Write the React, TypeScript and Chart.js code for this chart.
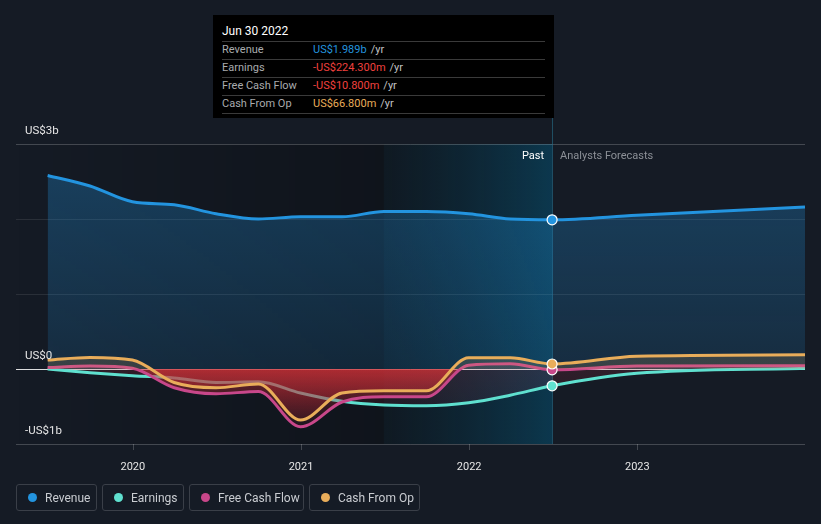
import React, { useEffect, useRef } from "react";
import { Chart, registerables } from "chart.js";

Chart.register(...registerables);

// ---- Data (US$ billions) ----
const periods = [
  "2019-06-30", "2019-09-30", "2019-12-31", "2020-03-31", "2020-06-30",
  "2020-09-30", "2020-12-31", "2021-03-31", "2021-06-30", "2021-09-30",
  "2021-12-31", "2022-03-31", "2022-06-30", "2022-12-31", "2023-12-31",
];
const revenue = [2.58, 2.44, 2.23, 2.19, 2.07, 2.0, 2.03, 2.03, 2.1, 2.1, 2.07, 2.0, 1.989, 2.05, 2.16];
const earnings = [0.0, -0.05, -0.09, -0.12, -0.18, -0.17, -0.32, -0.43, -0.48, -0.49, -0.45, -0.35, -0.2243, -0.058, 0.01];
const freeCashFlow = [0.02, 0.04, 0.01, -0.25, -0.33, -0.3, -0.77, -0.44, -0.37, -0.37, 0.05, 0.07, -0.0108, 0.04, 0.045];
const cashFromOp = [0.12, 0.155, 0.12, -0.18, -0.25, -0.2, -0.68, -0.32, -0.29, -0.29, 0.15, 0.15, 0.0668, 0.17, 0.19];

const yTickValues = [-1, 0, 1, 2, 3];
const yTickLabels: Record<string, string> = { "3": "US$3b", "0": "US$0", "-1": "-US$1b" };
const xTickYears = [2020, 2021, 2022, 2023];
const pastEndIndex = 12;
const bandStartDate = "2021-06-30";
const xAxisStart = 2019.305;

const tooltipTitle = "Jun 30 2022";
const tooltipRows = [
  { label: "Revenue", value: "US$1.989b", color: "#2394df" },
  { label: "Earnings", value: "-US$224.300m", color: "#f0403e" },
  { label: "Free Cash Flow", value: "-US$10.800m", color: "#f0403e" },
  { label: "Cash From Op", value: "US$66.800m", color: "#e9ad5a" },
];

const COLORS = {
  revenue: "#2394df",
  earnings: "#5fe0cf",
  fcf: "#c8478a",
  cfo: "#e9ad5a",
};

const legendItems = [
  { label: "Revenue", color: COLORS.revenue, width: 81 },
  { label: "Earnings", color: COLORS.earnings, width: 82 },
  { label: "Free Cash Flow", color: COLORS.fcf, width: 115 },
  { label: "Cash From Op", color: COLORS.cfo, width: 111 },
];

function toYear(d: string): number {
  const [y, m, day] = d.split("-").map(Number);
  const start = Date.UTC(y, 0, 1);
  const end = Date.UTC(y + 1, 0, 1);
  return y + (Date.UTC(y, m - 1, day) - start) / (end - start);
}

const xs = periods.map(toYear);
const toPoints = (vals: number[]) => vals.map((v, i) => ({ x: xs[i], y: v }));

function cashGradient(chart: any, above: string, belowTop: string, belowBottom: string) {
  const { chartArea, scales, ctx } = chart;
  if (!chartArea) return above;
  const top = chartArea.top;
  const bottom = chartArea.bottom;
  const y0 = scales.y.getPixelForValue(0);
  const yLow = scales.y.getPixelForValue(-0.8);
  const f0 = Math.min(1, Math.max(0, (y0 - top) / (bottom - top)));
  const fLow = Math.min(1, Math.max(f0 + 0.002, (yLow - top) / (bottom - top)));
  const g = ctx.createLinearGradient(0, top, 0, bottom);
  g.addColorStop(0, above);
  g.addColorStop(f0, above);
  g.addColorStop(Math.min(1, f0 + 0.001), belowTop);
  g.addColorStop(fLow, belowBottom);
  g.addColorStop(1, belowBottom);
  return g;
}

function revenueGradient(chart: any) {
  const { chartArea, scales, ctx } = chart;
  if (!chartArea) return "rgba(35,148,223,0.2)";
  const yTop = scales.y.getPixelForValue(2.6);
  const y0 = scales.y.getPixelForValue(0);
  const g = ctx.createLinearGradient(0, yTop, 0, y0);
  g.addColorStop(0, "rgba(35,148,223,0.30)");
  g.addColorStop(1, "rgba(35,148,223,0.15)");
  return g;
}

const overlayPlugin = {
  id: "overlayPlugin",
  beforeDatasetsDraw(chart: any) {
    const { ctx, chartArea, scales } = chart;
    const x = scales.x;
    const y = scales.y;
    const left = chartArea.left;
    const right = chartArea.right;
    const top = chartArea.top;
    const bottom = chartArea.bottom;
    const xBand = x.getPixelForValue(toYear(bandStartDate));
    const xNow = x.getPixelForValue(xs[pastEndIndex]);
    ctx.save();
    const g1 = ctx.createLinearGradient(left, 0, xBand, 0);
    g1.addColorStop(0, "rgba(0,0,0,0)");
    g1.addColorStop(1, "rgba(0,0,0,0.25)");
    ctx.fillStyle = g1;
    ctx.fillRect(left, top, xBand - left, bottom - top);
    const g2 = ctx.createLinearGradient(xBand, 0, xNow, 0);
    g2.addColorStop(0, "rgba(8,24,32,0.4)");
    g2.addColorStop(1, "rgba(6,75,105,0.6)");
    ctx.fillStyle = g2;
    ctx.fillRect(xBand, top, xNow - xBand, bottom - top);
    yTickValues.forEach((v) => {
      const py = Math.round(y.getPixelForValue(v)) + 0.5;
      if (v === 0) return;
      ctx.beginPath();
      ctx.strokeStyle = v === 3 || v === -1 ? "rgba(255,255,255,0.2)" : "rgba(255,255,255,0.09)";
      ctx.lineWidth = 1;
      ctx.moveTo(left, py);
      ctx.lineTo(right, py);
      ctx.stroke();
    });
    const pz = Math.round(y.getPixelForValue(0)) + 0.5;
    ctx.beginPath();
    ctx.strokeStyle = "rgba(255,255,255,0.85)";
    ctx.lineWidth = 1;
    ctx.moveTo(left, pz);
    ctx.lineTo(right, pz);
    ctx.stroke();
    ctx.strokeStyle = "rgba(255,255,255,0.2)";
    xTickYears.forEach((yr) => {
      const px = Math.round(x.getPixelForValue(yr)) + 0.5;
      ctx.beginPath();
      ctx.moveTo(px, bottom);
      ctx.lineTo(px, bottom + 6);
      ctx.stroke();
    });
    ctx.beginPath();
    ctx.strokeStyle = "rgba(40,120,150,0.55)";
    ctx.moveTo(Math.round(xNow) + 0.5, 118);
    ctx.lineTo(Math.round(xNow) + 0.5, bottom);
    ctx.stroke();
    ctx.restore();
  },
  afterDraw(chart: any) {
    const { ctx, chartArea, scales } = chart;
    const x = scales.x;
    const y = scales.y;
    ctx.save();
    ctx.font = "11.5px Roboto";
    ctx.textBaseline = "middle";
    ctx.fillStyle = "#e6e6e6";
    ctx.textAlign = "left";
    yTickValues.forEach((v) => {
      const lbl = yTickLabels[String(v)];
      if (!lbl) return;
      ctx.fillText(lbl, chartArea.left + 9, y.getPixelForValue(v) - 12.5);
    });
    ctx.font = "11px Roboto";
    ctx.textAlign = "center";
    xTickYears.forEach((yr) => {
      ctx.fillText(String(yr), x.getPixelForValue(yr), chartArea.bottom + 23.5);
    });
    const xNow = x.getPixelForValue(xs[pastEndIndex]);
    ctx.textAlign = "right";
    ctx.fillStyle = "#ffffff";
    ctx.fillText("Past", xNow - 8, chartArea.top + 12.5);
    ctx.textAlign = "left";
    ctx.fillStyle = "#8c9097";
    ctx.fillText("Analysts Forecasts", xNow + 8, chartArea.top + 12.5);
    ctx.restore();
  },
};

export default function App() {
  const canvasRef = useRef<HTMLCanvasElement | null>(null);

  useEffect(() => {
    if (!canvasRef.current) return;
    const pointRadius = (ctx: any) => (ctx.dataIndex === pastEndIndex ? 5 : 0);
    const common = {
      borderWidth: 3,
      cubicInterpolationMode: "monotone" as const,
      pointRadius,
      pointHoverRadius: 0,
      pointBorderColor: "#ffffff",
      pointBorderWidth: 1.2,
    };
    const chart = new Chart(canvasRef.current, {
      type: "line",
      data: {
        datasets: [
          {
            ...common,
            label: "Cash From Op",
            data: toPoints(cashFromOp),
            borderColor: COLORS.cfo,
            pointBackgroundColor: COLORS.cfo,
            fill: "origin",
            backgroundColor: (c: any) =>
              cashGradient(c.chart, "rgba(233,173,90,0.16)", "rgba(215,50,55,0.5)", "rgba(160,30,45,0.08)"),
          },
          {
            ...common,
            label: "Free Cash Flow",
            data: toPoints(freeCashFlow),
            borderColor: COLORS.fcf,
            pointBackgroundColor: COLORS.fcf,
            fill: "origin",
            backgroundColor: (c: any) =>
              cashGradient(c.chart, "rgba(200,71,138,0.08)", "rgba(215,50,55,0.5)", "rgba(160,30,45,0.08)"),
          },
          {
            ...common,
            label: "Earnings",
            data: toPoints(earnings),
            borderColor: COLORS.earnings,
            pointBackgroundColor: COLORS.earnings,
            fill: "origin",
            backgroundColor: (c: any) =>
              cashGradient(c.chart, "rgba(95,224,207,0.04)", "rgba(190,50,70,0.16)", "rgba(160,40,60,0.08)"),
          },
          {
            ...common,
            label: "Revenue",
            data: toPoints(revenue),
            borderColor: COLORS.revenue,
            pointBackgroundColor: COLORS.revenue,
            fill: "origin",
            backgroundColor: (c: any) => revenueGradient(c.chart),
          },
        ],
      },
      options: {
        animation: false,
        responsive: false,
        maintainAspectRatio: false,
        layout: { padding: { left: 16, right: 16, top: 144, bottom: 80 } },
        plugins: { legend: { display: false }, tooltip: { enabled: false } },
        events: [],
        scales: {
          x: { type: "linear", display: false, min: xAxisStart, max: xs[xs.length - 1] },
          y: { type: "linear", display: false, min: -1, max: 3 },
        },
      },
      plugins: [overlayPlugin],
    });
    return () => chart.destroy();
  }, []);

  return (
    <div
      style={{
        position: "fixed",
        left: 0,
        top: 0,
        width: 821,
        height: 524,
        background: "#151b25",
        fontFamily: "Roboto, 'Noto Sans', sans-serif",
        overflow: "hidden",
      }}
    >
      <canvas ref={canvasRef} width={821} height={524} style={{ position: "absolute", left: 0, top: 0 }} />
      <div
        style={{
          position: "absolute",
          left: 213,
          top: 15,
          width: 341,
          height: 103,
          background: "#000000",
          boxSizing: "border-box",
          padding: "0 9px",
        }}
      >
        <div style={{ height: 26, lineHeight: "33px", fontSize: 12, color: "#ffffff" }}>{tooltipTitle}</div>
        {tooltipRows.map((r) => (
          <div
            key={r.label}
            style={{
              borderTop: "1px solid #3a3a3a",
              height: 17,
              lineHeight: "16px",
              fontSize: 11,
              display: "flex",
              whiteSpace: "nowrap",
            }}
          >
            <span style={{ width: 91, color: "#a9abae" }}>{r.label}</span>
            <span style={{ color: r.color }}>{r.value}</span>
            <span style={{ color: "#c0c2c5", marginLeft: 4 }}>/yr</span>
          </div>
        ))}
        <div style={{ borderTop: "1px solid #3a3a3a" }} />
      </div>
      <div style={{ position: "absolute", left: 16, top: 484, display: "flex", gap: 5 }}>
        {legendItems.map((it) => (
          <div
            key={it.label}
            style={{
              width: it.width,
              height: 27,
              boxSizing: "border-box",
              border: "1px solid #3a3f48",
              borderRadius: 3,
              display: "flex",
              alignItems: "center",
              fontSize: 12,
              color: "#c9ccd1",
              whiteSpace: "nowrap",
            }}
          >
            <span
              style={{
                width: 9,
                height: 9,
                borderRadius: "50%",
                background: it.color,
                marginLeft: 11,
                marginRight: 8,
                display: "inline-block",
              }}
            />
            {it.label}
          </div>
        ))}
      </div>
    </div>
  );
}
